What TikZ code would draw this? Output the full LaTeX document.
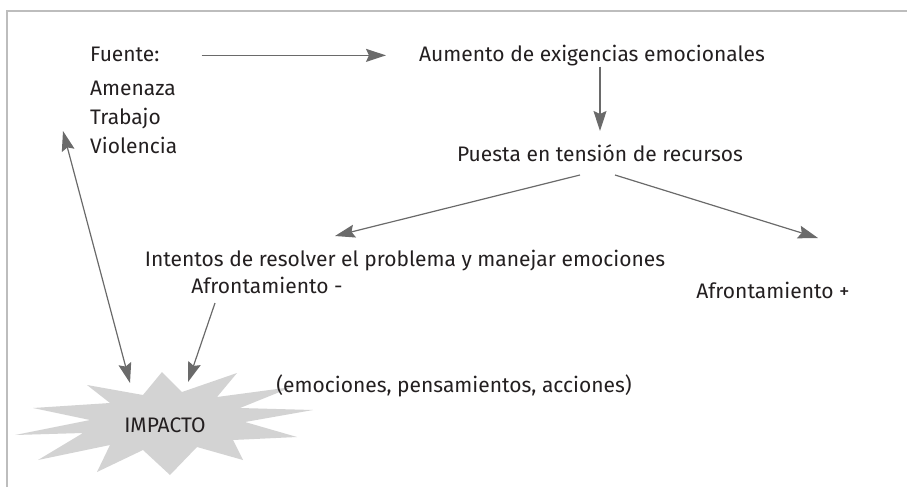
\documentclass[tikz,border=0pt]{standalone}
\usepackage{fontspec}
\setmainfont{Fira Sans}
\usetikzlibrary{arrows.meta}
\definecolor{flecha}{HTML}{6A6A6A}
\definecolor{marco}{HTML}{BDBDBD}
\definecolor{texto}{HTML}{231F20}
\definecolor{estalla}{HTML}{D3D3D3}
\tikzset{
  punta/.tip={Stealth[length=20pt,width=13pt,inset=3pt]},
  txt/.style={inner sep=0pt, anchor=base, text=texto, font=\fontsize{21}{25}\selectfont},
  flechas/.style={draw=flecha, line width=1.2pt},
}
\begin{document}
\begin{tikzpicture}[x=1pt,y=-1pt]
\useasboundingbox (0,0) rectangle (907,487);
% marco
\draw[marco, line width=2.5pt] (7,487) -- (7,11) -- (907,11);
% estallido
\fill[estalla] (162,372) -- (182,392) -- (237,373) -- (217,397) -- (292,387) -- (240,408)
  -- (313,410) -- (245,422) -- (297,437) -- (233,440) -- (243,460) -- (197,447)
  -- (170,475) -- (143,450) -- (97,472) -- (110,445) -- (38,460) -- (83,433)
  -- (15,435) -- (90,420) -- (33,408) -- (110,403) -- (87,385) -- (143,395) -- cycle;
% textos
\node[txt, anchor=base west] (fuente) at (90,62) {Fuente:};
\node[txt, anchor=base west] (amenaza) at (90,95) {Amenaza};
\node[txt, anchor=base west] (trabajo) at (90,124) {Trabajo};
\node[txt, anchor=base west] (violencia) at (90,153) {Violencia};
\node[txt] (aumento) at (592,62) {Aumento de exigencias emocionales};
\node[txt] (puesta) at (600,161) {Puesta en tensión de recursos};
\node[txt] (intentos) at (405,266) {Intentos de resolver el problema y manejar emociones};
\node[txt] (afrmenos) at (267,293) {Afrontamiento -};
\node[txt] (afrmas) at (773,298) {Afrontamiento +};
\node[txt] (efectos) at (454,392) {(emociones, pensamientos, acciones)};
\node[txt] (impacto) at (165,432) {IMPACTO};
% extremos libres
\coordinate (pizq) at (580,175);
\coordinate (pder) at (615,175);
\coordinate (tizq) at (335,236);
\coordinate (tder) at (818,238);
\coordinate (amenos) at (215,303);
\coordinate (imp1) at (188,382);
\coordinate (fte) at (63,131);
\coordinate (imp2) at (130,383);
% flechas
\draw[flechas, -punta, shorten <=42pt, shorten >=33pt]
  ([yshift=4pt]fuente.mid east) -- ([yshift=4pt]aumento.mid west);
\draw[flechas, -punta, shorten <=0pt, shorten >=13pt]
  (puesta.north |- aumento.south) -- (puesta.north);
\draw[flechas, -punta] (pizq) -- (tizq);
\draw[flechas, -punta] (pder) -- (tder);
\draw[flechas, -punta] (amenos) -- (imp1);
\draw[flechas, punta-punta] (fte) -- (imp2);
\end{tikzpicture}
\end{document}
